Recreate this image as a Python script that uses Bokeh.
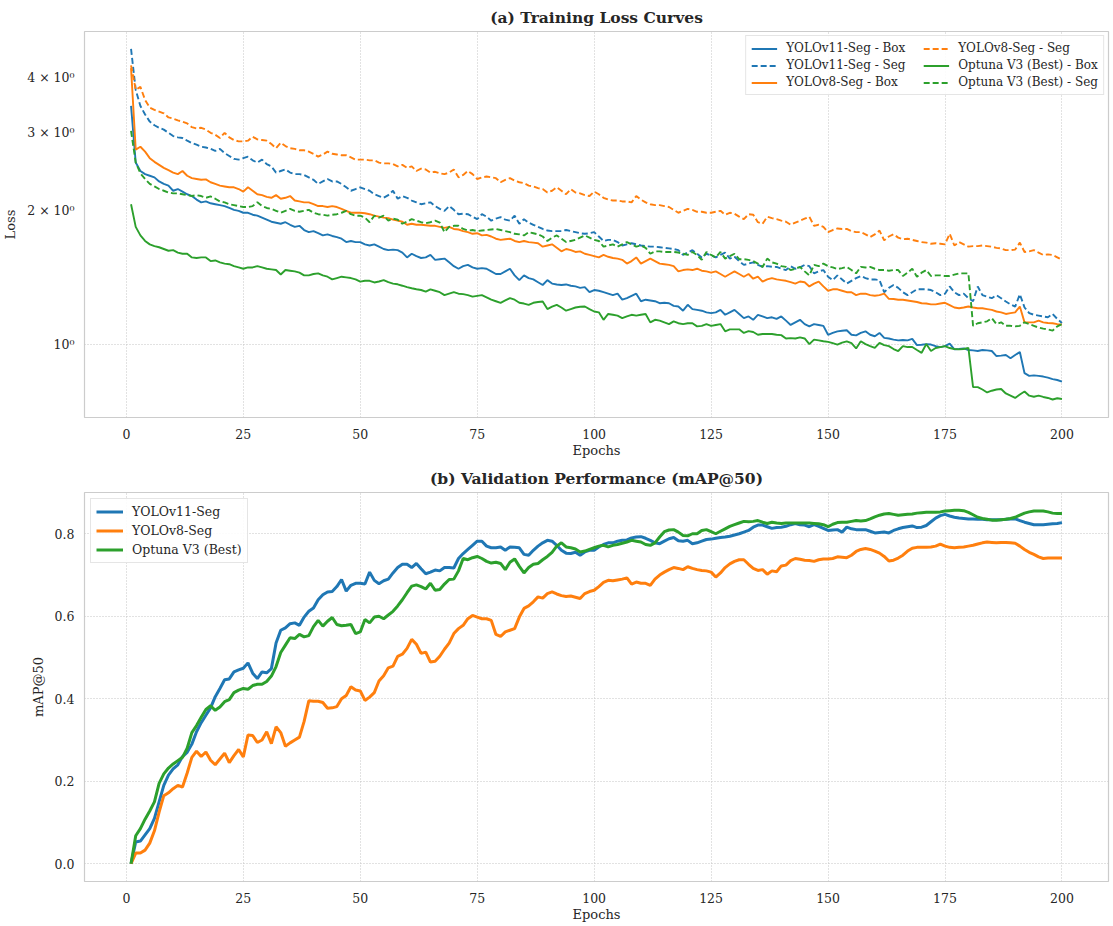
from bokeh.plotting import figure
from bokeh.layouts import column
from bokeh.models import FixedTicker, Range1d, PrintfTickFormatter
from bokeh.embed import file_html
from bokeh.resources import INLINE

epochs = list(range(1, 201))

v11_box = [3.45, 2.57, 2.46, 2.42, 2.40, 2.38, 2.33, 2.30, 2.28, 2.22,
           2.24, 2.21, 2.18, 2.16, 2.12, 2.09, 2.10, 2.08, 2.07, 2.06,
           2.05, 2.03, 2.01, 2.00, 1.98, 1.98, 1.96, 1.95, 1.93, 1.91,
           1.89, 1.88, 1.87, 1.885, 1.86, 1.84, 1.85, 1.81, 1.79, 1.80,
           1.78, 1.76, 1.77, 1.755, 1.745, 1.73, 1.70, 1.71, 1.70, 1.70,
           1.68, 1.67, 1.68, 1.66, 1.64, 1.63, 1.635, 1.63, 1.61, 1.57,
           1.60, 1.58, 1.565, 1.57, 1.59, 1.55, 1.555, 1.56, 1.53, 1.50,
           1.48, 1.50, 1.51, 1.49, 1.48, 1.485, 1.48, 1.46, 1.44, 1.44,
           1.46, 1.48, 1.43, 1.395, 1.43, 1.41, 1.40, 1.38, 1.36, 1.395,
           1.37, 1.364, 1.36, 1.364, 1.355, 1.35, 1.34, 1.345, 1.31, 1.325,
           1.32, 1.31, 1.30, 1.29, 1.30, 1.26, 1.27, 1.285, 1.30, 1.25,
           1.26, 1.255, 1.25, 1.237, 1.24, 1.237, 1.22, 1.216, 1.19, 1.227,
           1.20, 1.195, 1.19, 1.18, 1.175, 1.18, 1.195, 1.165, 1.18, 1.195,
           1.17, 1.145, 1.155, 1.135, 1.165, 1.155, 1.145, 1.15, 1.14, 1.155,
           1.13, 1.105, 1.12, 1.135, 1.11, 1.097, 1.11, 1.105, 1.10, 1.05,
           1.06, 1.069, 1.072, 1.075, 1.05, 1.047, 1.06, 1.069, 1.05, 1.042,
           1.06, 1.033, 1.03, 1.024, 1.02, 1.022, 1.02, 1.028, 0.995, 0.997,
           1.00, 0.998, 0.99, 0.985, 0.99, 1.003, 0.973, 0.975, 0.978, 0.97,
           0.968, 0.965, 0.97, 0.968, 0.965, 0.94, 0.942, 0.945, 0.929, 0.945,
           0.96, 0.86, 0.848, 0.85, 0.848, 0.845, 0.84, 0.834, 0.83, 0.823]

v11_seg = [4.64, 3.75, 3.45, 3.30, 3.18, 3.12, 3.08, 3.05, 3.00, 2.95,
           2.93, 2.92, 2.88, 2.845, 2.82, 2.79, 2.78, 2.76, 2.73, 2.76,
           2.70, 2.66, 2.62, 2.61, 2.63, 2.65, 2.60, 2.57, 2.61, 2.55,
           2.52, 2.44, 2.46, 2.48, 2.44, 2.42, 2.42, 2.41, 2.38, 2.35,
           2.30, 2.33, 2.36, 2.33, 2.33, 2.30, 2.26, 2.22, 2.24, 2.26,
           2.24, 2.22, 2.18, 2.16, 2.14, 2.17, 2.22, 2.13, 2.16, 2.14,
           2.11, 2.09, 2.07, 2.08, 2.09, 2.05, 2.02, 2.00, 2.05, 2.01,
           1.965, 1.97, 1.965, 1.94, 1.915, 1.965, 1.94, 1.90, 1.92, 1.935,
           1.91, 1.90, 1.95, 1.87, 1.915, 1.88, 1.86, 1.84, 1.82, 1.805,
           1.80, 1.80, 1.80, 1.81, 1.80, 1.79, 1.78, 1.775, 1.78, 1.79,
           1.75, 1.71, 1.72, 1.72, 1.70, 1.67, 1.68, 1.69, 1.68, 1.67,
           1.665, 1.66, 1.66, 1.655, 1.65, 1.645, 1.64, 1.63, 1.59, 1.61,
           1.63, 1.60, 1.57, 1.60, 1.585, 1.57, 1.59, 1.61, 1.56, 1.575,
           1.54, 1.51, 1.52, 1.53, 1.51, 1.494, 1.50, 1.495, 1.494, 1.48,
           1.47, 1.50, 1.48, 1.49, 1.51, 1.50, 1.445, 1.46, 1.47, 1.42,
           1.395, 1.43, 1.40, 1.37, 1.39, 1.41, 1.425, 1.41, 1.40, 1.40,
           1.395, 1.31, 1.34, 1.36, 1.34, 1.31, 1.29, 1.31, 1.33, 1.33,
           1.33, 1.325, 1.31, 1.29, 1.30, 1.35, 1.31, 1.29, 1.30, 1.27,
           1.25, 1.35, 1.29, 1.28, 1.27, 1.29, 1.27, 1.248, 1.23, 1.216,
           1.296, 1.21, 1.175, 1.165, 1.16, 1.155, 1.15, 1.17, 1.14, 1.116]

v8_box = [4.20, 2.75, 2.79, 2.72, 2.63, 2.58, 2.54, 2.50, 2.47, 2.44,
          2.42, 2.46, 2.40, 2.37, 2.36, 2.35, 2.355, 2.32, 2.30, 2.28,
          2.27, 2.26, 2.26, 2.24, 2.21, 2.26, 2.22, 2.18, 2.17, 2.15,
          2.14, 2.17, 2.13, 2.14, 2.16, 2.11, 2.10, 2.09, 2.09, 2.07,
          2.05, 2.05, 2.04, 2.05, 2.04, 2.02, 2.00, 1.98, 1.98, 1.98,
          1.975, 1.965, 1.95, 1.94, 1.93, 1.925, 1.91, 1.90, 1.89, 1.86,
          1.87, 1.86, 1.86, 1.855, 1.85, 1.85, 1.84, 1.83, 1.84, 1.82,
          1.815, 1.80, 1.79, 1.775, 1.78, 1.76, 1.765, 1.75, 1.73, 1.72,
          1.725, 1.73, 1.71, 1.70, 1.71, 1.70, 1.695, 1.69, 1.66, 1.67,
          1.68, 1.65, 1.62, 1.64, 1.63, 1.615, 1.62, 1.60, 1.59, 1.58,
          1.57, 1.59, 1.575, 1.565, 1.56, 1.55, 1.52, 1.54, 1.57, 1.52,
          1.54, 1.56, 1.54, 1.52, 1.515, 1.51, 1.50, 1.46, 1.47, 1.475,
          1.47, 1.48, 1.465, 1.46, 1.45, 1.46, 1.44, 1.42, 1.44, 1.46,
          1.44, 1.42, 1.44, 1.405, 1.42, 1.384, 1.40, 1.41, 1.40, 1.395,
          1.39, 1.38, 1.37, 1.385, 1.38, 1.35, 1.37, 1.384, 1.35, 1.32,
          1.33, 1.33, 1.32, 1.31, 1.31, 1.29, 1.30, 1.30, 1.29, 1.286,
          1.29, 1.30, 1.266, 1.265, 1.26, 1.26, 1.255, 1.25, 1.245, 1.237,
          1.235, 1.23, 1.23, 1.235, 1.24, 1.225, 1.21, 1.205, 1.21, 1.216,
          1.21, 1.205, 1.205, 1.20, 1.195, 1.185, 1.18, 1.17, 1.175, 1.18,
          1.216, 1.12, 1.12, 1.12, 1.13, 1.12, 1.116, 1.115, 1.11, 1.107]

v8_seg = [4.26, 3.75, 3.81, 3.56, 3.42, 3.38, 3.35, 3.32, 3.25, 3.23,
          3.20, 3.18, 3.15, 3.09, 3.07, 3.08, 3.05, 3.00, 2.97, 2.92,
          3.00, 2.93, 2.89, 2.87, 2.87, 2.88, 2.94, 2.90, 2.89, 2.88,
          2.83, 2.77, 2.85, 2.80, 2.77, 2.76, 2.74, 2.74, 2.72, 2.69,
          2.65, 2.68, 2.72, 2.69, 2.68, 2.67, 2.67, 2.64, 2.61, 2.61,
          2.61, 2.60, 2.60, 2.57, 2.56, 2.56, 2.55, 2.52, 2.54, 2.50,
          2.52, 2.46, 2.49, 2.48, 2.44, 2.45, 2.43, 2.42, 2.44, 2.48,
          2.38, 2.41, 2.46, 2.42, 2.36, 2.38, 2.39, 2.38, 2.37, 2.32,
          2.35, 2.37, 2.34, 2.32, 2.31, 2.28, 2.27, 2.25, 2.24, 2.20,
          2.22, 2.26, 2.22, 2.18, 2.24, 2.20, 2.19, 2.17, 2.16, 2.21,
          2.18, 2.14, 2.12, 2.11, 2.11, 2.10, 2.10, 2.09, 2.16, 2.12,
          2.09, 2.07, 2.06, 2.06, 2.05, 2.04, 2.01, 1.98, 2.00, 2.02,
          2.01, 1.99, 1.99, 1.98, 1.98, 1.99, 2.00, 1.96, 1.98, 1.97,
          1.94, 1.915, 1.965, 1.96, 1.885, 1.87, 1.94, 1.925, 1.915, 1.90,
          1.89, 1.86, 1.88, 1.90, 1.92, 1.94, 1.85, 1.86, 1.84, 1.79,
          1.81, 1.825, 1.82, 1.82, 1.80, 1.79, 1.79, 1.77, 1.745, 1.77,
          1.805, 1.715, 1.75, 1.77, 1.74, 1.725, 1.73, 1.72, 1.71, 1.70,
          1.695, 1.685, 1.69, 1.685, 1.68, 1.775, 1.67, 1.70, 1.68, 1.66,
          1.665, 1.665, 1.67, 1.665, 1.66, 1.65, 1.645, 1.63, 1.63, 1.635,
          1.695, 1.615, 1.62, 1.63, 1.61, 1.59, 1.595, 1.59, 1.57, 1.55]

opt_box = [2.07, 1.84, 1.76, 1.71, 1.68, 1.665, 1.655, 1.64, 1.625, 1.63,
           1.61, 1.60, 1.60, 1.57, 1.565, 1.57, 1.57, 1.54, 1.545, 1.53,
           1.52, 1.515, 1.50, 1.49, 1.48, 1.49, 1.49, 1.50, 1.49, 1.48,
           1.475, 1.47, 1.436, 1.47, 1.465, 1.46, 1.45, 1.43, 1.43, 1.44,
           1.445, 1.43, 1.42, 1.40, 1.41, 1.42, 1.415, 1.41, 1.40, 1.384,
           1.39, 1.39, 1.378, 1.385, 1.395, 1.38, 1.37, 1.365, 1.355, 1.345,
           1.337, 1.33, 1.325, 1.314, 1.33, 1.32, 1.31, 1.29, 1.30, 1.31,
           1.30, 1.297, 1.29, 1.28, 1.285, 1.29, 1.275, 1.26, 1.25, 1.24,
           1.255, 1.27, 1.26, 1.24, 1.235, 1.227, 1.24, 1.245, 1.248, 1.20,
           1.215, 1.227, 1.21, 1.19, 1.20, 1.21, 1.215, 1.216, 1.20, 1.185,
           1.18, 1.135, 1.17, 1.165, 1.16, 1.145, 1.155, 1.165, 1.16, 1.165,
           1.17, 1.12, 1.135, 1.13, 1.12, 1.11, 1.126, 1.115, 1.11, 1.115,
           1.115, 1.097, 1.10, 1.11, 1.10, 1.105, 1.11, 1.069, 1.08, 1.08,
           1.08, 1.06, 1.07, 1.065, 1.05, 1.054, 1.055, 1.054, 1.05, 1.048,
           1.03, 1.032, 1.03, 1.036, 1.03, 1.00, 1.024, 1.02, 1.015, 1.012,
           1.005, 0.998, 1.008, 1.015, 1.005, 0.978, 1.015, 1.00, 0.99, 0.981,
           1.007, 0.995, 0.99, 0.975, 0.965, 0.99, 0.985, 0.985, 0.97, 0.956,
           1.001, 0.965, 0.98, 0.985, 0.99, 0.98, 0.975, 0.973, 0.975, 0.981,
           0.80, 0.80, 0.79, 0.778, 0.785, 0.79, 0.792, 0.774, 0.765, 0.756,
           0.77, 0.782, 0.765, 0.761, 0.765, 0.76, 0.756, 0.75, 0.755, 0.752]

opt_seg = [3.03, 2.57, 2.43, 2.36, 2.30, 2.27, 2.24, 2.22, 2.20, 2.19,
           2.19, 2.18, 2.17, 2.16, 2.17, 2.16, 2.14, 2.155, 2.13, 2.10,
           2.09, 2.07, 2.06, 2.05, 2.04, 2.04, 2.05, 2.09, 2.05, 2.03,
           2.02, 2.00, 1.98, 2.00, 2.02, 2.00, 1.99, 2.00, 2.01, 1.98,
           1.965, 1.96, 1.95, 1.96, 1.965, 1.98, 2.00, 1.965, 1.95, 1.95,
           1.93, 1.885, 1.95, 1.93, 1.95, 1.90, 1.92, 1.91, 1.87, 1.89,
           1.915, 1.90, 1.885, 1.875, 1.885, 1.90, 1.88, 1.79, 1.84, 1.85,
           1.85, 1.82, 1.805, 1.81, 1.80, 1.805, 1.81, 1.815, 1.82, 1.81,
           1.80, 1.79, 1.775, 1.77, 1.76, 1.79, 1.78, 1.77, 1.75, 1.71,
           1.74, 1.76, 1.73, 1.70, 1.71, 1.72, 1.74, 1.76, 1.74, 1.72,
           1.71, 1.66, 1.67, 1.68, 1.66, 1.68, 1.70, 1.68, 1.66, 1.67,
           1.65, 1.60, 1.62, 1.62, 1.615, 1.615, 1.615, 1.61, 1.60, 1.59,
           1.615, 1.59, 1.55, 1.615, 1.59, 1.57, 1.615, 1.56, 1.58, 1.60,
           1.555, 1.555, 1.55, 1.54, 1.52, 1.494, 1.56, 1.53, 1.52, 1.50,
           1.494, 1.47, 1.48, 1.494, 1.46, 1.43, 1.51, 1.50, 1.52, 1.50,
           1.49, 1.477, 1.485, 1.494, 1.47, 1.445, 1.494, 1.49, 1.494, 1.48,
           1.47, 1.47, 1.465, 1.47, 1.47, 1.425, 1.45, 1.48, 1.42, 1.45,
           1.47, 1.425, 1.43, 1.43, 1.425, 1.425, 1.435, 1.445, 1.445, 1.445,
           1.10, 1.115, 1.12, 1.126, 1.145, 1.11, 1.12, 1.10, 1.10, 1.097,
           1.10, 1.12, 1.11, 1.10, 1.09, 1.084, 1.08, 1.073, 1.097, 1.11]

map_v11 = [0.0, 0.053, 0.055, 0.07, 0.085, 0.11, 0.15, 0.19, 0.215, 0.23,
           0.24, 0.26, 0.27, 0.29, 0.32, 0.342, 0.36, 0.378, 0.405, 0.425,
           0.446, 0.448, 0.465, 0.47, 0.474, 0.487, 0.462, 0.449, 0.465, 0.463,
           0.473, 0.535, 0.566, 0.572, 0.582, 0.584, 0.578, 0.598, 0.612, 0.62,
           0.64, 0.652, 0.659, 0.66, 0.672, 0.689, 0.661, 0.675, 0.68, 0.68,
           0.678, 0.707, 0.687, 0.679, 0.686, 0.69, 0.705, 0.718, 0.726, 0.726,
           0.718, 0.728, 0.715, 0.703, 0.707, 0.712, 0.71, 0.718, 0.718, 0.717,
           0.74, 0.752, 0.762, 0.772, 0.782, 0.782, 0.77, 0.766, 0.766, 0.768,
           0.76, 0.768, 0.767, 0.766, 0.75, 0.748, 0.76, 0.77, 0.778, 0.784,
           0.782, 0.772, 0.76, 0.753, 0.752, 0.755, 0.748, 0.756, 0.76, 0.76,
           0.768, 0.774, 0.778, 0.778, 0.782, 0.784, 0.785, 0.79, 0.792, 0.793,
           0.789, 0.784, 0.778, 0.776, 0.782, 0.788, 0.791, 0.783, 0.782, 0.784,
           0.776, 0.778, 0.782, 0.786, 0.787, 0.789, 0.791, 0.792, 0.794, 0.797,
           0.80, 0.804, 0.808, 0.816, 0.821, 0.821, 0.817, 0.813, 0.815, 0.816,
           0.818, 0.822, 0.825, 0.822, 0.821, 0.817, 0.822, 0.818, 0.813, 0.808,
           0.809, 0.81, 0.804, 0.816, 0.812, 0.81, 0.81, 0.81, 0.806, 0.802,
           0.803, 0.804, 0.802, 0.808, 0.812, 0.815, 0.817, 0.819, 0.815, 0.816,
           0.82, 0.829, 0.838, 0.844, 0.847, 0.843, 0.84, 0.838, 0.837, 0.836,
           0.836, 0.835, 0.835, 0.834, 0.834, 0.834, 0.834, 0.835, 0.836, 0.836,
           0.832, 0.828, 0.825, 0.822, 0.822, 0.822, 0.823, 0.824, 0.825, 0.827]

map_v8 = [0.0, 0.026, 0.026, 0.033, 0.05, 0.08, 0.125, 0.165, 0.172, 0.182,
          0.19, 0.186, 0.22, 0.258, 0.273, 0.26, 0.271, 0.251, 0.24, 0.254,
          0.268, 0.245, 0.262, 0.277, 0.259, 0.312, 0.311, 0.294, 0.30, 0.32,
          0.291, 0.332, 0.318, 0.285, 0.293, 0.30, 0.307, 0.345, 0.395, 0.394,
          0.394, 0.391, 0.377, 0.378, 0.381, 0.40, 0.408, 0.429, 0.421, 0.419,
          0.396, 0.404, 0.415, 0.443, 0.456, 0.475, 0.479, 0.503, 0.508, 0.522,
          0.544, 0.532, 0.51, 0.513, 0.489, 0.491, 0.503, 0.52, 0.535, 0.558,
          0.57, 0.578, 0.594, 0.602, 0.598, 0.594, 0.594, 0.59, 0.556, 0.551,
          0.562, 0.566, 0.57, 0.598, 0.619, 0.625, 0.635, 0.647, 0.644, 0.655,
          0.659, 0.654, 0.65, 0.648, 0.649, 0.646, 0.643, 0.655, 0.66, 0.663,
          0.672, 0.682, 0.687, 0.686, 0.688, 0.69, 0.693, 0.678, 0.683, 0.68,
          0.68, 0.675, 0.69, 0.70, 0.707, 0.713, 0.718, 0.716, 0.713, 0.72,
          0.716, 0.713, 0.711, 0.71, 0.707, 0.695, 0.705, 0.718, 0.727, 0.733,
          0.737, 0.737, 0.726, 0.716, 0.711, 0.713, 0.702, 0.71, 0.708, 0.722,
          0.724, 0.735, 0.74, 0.738, 0.736, 0.735, 0.733, 0.737, 0.739, 0.739,
          0.74, 0.744, 0.743, 0.742, 0.748, 0.757, 0.762, 0.764, 0.762, 0.758,
          0.753, 0.745, 0.734, 0.736, 0.741, 0.748, 0.758, 0.765, 0.767, 0.767,
          0.767, 0.768, 0.77, 0.775, 0.77, 0.767, 0.766, 0.767, 0.768, 0.77,
          0.772, 0.775, 0.778, 0.78, 0.779, 0.778, 0.779, 0.779, 0.778, 0.777,
          0.77, 0.762, 0.755, 0.75, 0.744, 0.74, 0.741, 0.741, 0.741, 0.741]

map_opt = [0.0, 0.068, 0.085, 0.108, 0.128, 0.15, 0.195, 0.218, 0.232, 0.242,
           0.25, 0.258, 0.28, 0.318, 0.335, 0.355, 0.374, 0.383, 0.372, 0.38,
           0.393, 0.398, 0.415, 0.421, 0.425, 0.423, 0.432, 0.435, 0.435, 0.442,
           0.455, 0.478, 0.512, 0.53, 0.548, 0.546, 0.556, 0.55, 0.553, 0.575,
           0.59, 0.576, 0.588, 0.597, 0.58, 0.577, 0.578, 0.58, 0.558, 0.562,
           0.592, 0.584, 0.598, 0.60, 0.594, 0.603, 0.612, 0.625, 0.64, 0.657,
           0.673, 0.676, 0.672, 0.666, 0.68, 0.663, 0.665, 0.678, 0.689, 0.69,
           0.71, 0.74, 0.737, 0.742, 0.745, 0.74, 0.733, 0.729, 0.731, 0.728,
           0.713, 0.731, 0.739, 0.721, 0.705, 0.718, 0.726, 0.728, 0.737, 0.745,
           0.755, 0.77, 0.778, 0.768, 0.766, 0.763, 0.756, 0.758, 0.762, 0.766,
           0.77, 0.772, 0.768, 0.772, 0.774, 0.777, 0.78, 0.784, 0.782, 0.78,
           0.774, 0.772, 0.778, 0.792, 0.805, 0.809, 0.81, 0.804, 0.796, 0.795,
           0.80, 0.80, 0.808, 0.81, 0.805, 0.80, 0.806, 0.812, 0.818, 0.822,
           0.826, 0.83, 0.829, 0.83, 0.832, 0.828, 0.825, 0.828, 0.826, 0.825,
           0.826, 0.826, 0.826, 0.826, 0.826, 0.826, 0.825, 0.824, 0.822, 0.817,
           0.823, 0.827, 0.828, 0.828, 0.83, 0.832, 0.831, 0.832, 0.836, 0.841,
           0.845, 0.848, 0.849, 0.847, 0.845, 0.846, 0.847, 0.848, 0.85, 0.851,
           0.852, 0.852, 0.852, 0.853, 0.855, 0.856, 0.857, 0.857, 0.856, 0.852,
           0.846, 0.84, 0.837, 0.835, 0.833, 0.833, 0.834, 0.835, 0.837, 0.84,
           0.845, 0.85, 0.853, 0.855, 0.855, 0.855, 0.853, 0.85, 0.849, 0.849]

x_ticks = [0, 25, 50, 75, 100, 125, 150, 175, 200]
loss_ticks = [1, 2, 3, 4]
loss_tick_labels = {1: "10⁰", 2: "2 × 10⁰", 3: "3 × 10⁰", 4: "4 × 10⁰"}
map_ticks = [0.0, 0.2, 0.4, 0.6, 0.8]

BLUE = "#1f77b4"
ORANGE = "#ff7f0e"
GREEN = "#2ca02c"
FONT = "DejaVu Serif"
TXT = "#262626"


def style(p, title):
    p.title.text = title
    p.title.text_font = FONT
    p.title.text_font_style = "bold"
    p.title.text_font_size = "15.5px"
    p.title.text_color = TXT
    p.title.align = "center"
    p.outline_line_color = "#cccccc"
    p.outline_line_width = 1.2
    p.background_fill_color = "white"
    p.border_fill_color = "white"
    for ax in (p.xaxis, p.yaxis):
        ax.axis_line_color = None
        ax.major_tick_line_color = None
        ax.minor_tick_line_color = None
        ax.major_tick_out = 0
        ax.major_tick_in = 0
        ax.minor_tick_out = 0
        ax.minor_tick_in = 0
        ax.major_label_text_font = FONT
        ax.major_label_text_font_size = "12.5px"
        ax.major_label_text_color = TXT
        ax.axis_label_text_font = FONT
        ax.axis_label_text_font_size = "13px"
        ax.axis_label_text_font_style = "normal"
        ax.axis_label_text_color = TXT
    p.xaxis.major_label_standoff = 11
    p.xaxis.axis_label_standoff = 1
    p.yaxis.major_label_standoff = 10
    p.yaxis.axis_label_standoff = 6
    for g in (p.xgrid, p.ygrid):
        g.grid_line_color = "#c4c4c4"
        g.grid_line_dash = "1 2"
        g.grid_line_width = 1
    p.xaxis.ticker = FixedTicker(ticks=x_ticks)
    p.xgrid.ticker = FixedTicker(ticks=x_ticks)
    p.xaxis.axis_label = "Epochs"


# ---- (a) training loss ----
p1 = figure(width=1113, height=460, y_axis_type="log",
            x_range=Range1d(-8.95, 209.95), y_range=Range1d(0.683, 5.08),
            output_backend="svg", toolbar_location=None,
            min_border_left=81, min_border_right=5,
            min_border_top=28, min_border_bottom=43)
style(p1, "(a) Training Loss Curves")
p1.yaxis.axis_label = "Loss"
p1.yaxis.ticker = FixedTicker(ticks=loss_ticks, minor_ticks=[])
p1.yaxis.major_label_overrides = loss_tick_labels
p1.ygrid.ticker = FixedTicker(ticks=[1])

lw = 1.9
dash = "6 3"
p1.line(epochs, v11_box, color=BLUE, line_width=lw, legend_label="YOLOv11-Seg - Box")
p1.line(epochs, v11_seg, color=BLUE, line_width=lw, line_dash=dash, legend_label="YOLOv11-Seg - Seg")
p1.line(epochs, v8_box, color=ORANGE, line_width=lw, legend_label="YOLOv8-Seg - Box")
p1.line(epochs, v8_seg, color=ORANGE, line_width=lw, line_dash=dash, legend_label="YOLOv8-Seg - Seg")
p1.line(epochs, opt_box, color=GREEN, line_width=lw, legend_label="Optuna V3 (Best) - Box")
p1.line(epochs, opt_seg, color=GREEN, line_width=lw, line_dash=dash, legend_label="Optuna V3 (Best) - Seg")

lg = p1.legend[0]
lg.location = "top_right"
lg.nrows = 3
lg.margin = 4
lg.padding = 5
lg.spacing = 3
lg.label_text_font = FONT
lg.label_text_font_size = "12px"
lg.label_text_color = TXT
lg.label_height = 13
lg.glyph_height = 13
lg.glyph_width = 26
lg.label_standoff = 9
lg.label_width = 134
lg.border_line_color = "#cccccc"
lg.border_line_width = 1
lg.background_fill_alpha = 0.9

# ---- (b) validation mAP ----
p2 = figure(width=1113, height=466,
            x_range=Range1d(-8.95, 209.95), y_range=Range1d(-0.043, 0.90),
            output_backend="svg", toolbar_location=None,
            min_border_left=81, min_border_right=5,
            min_border_top=32, min_border_bottom=45)
style(p2, "(b) Validation Performance (mAP@50)")
p2.yaxis.axis_label = "mAP@50"
p2.yaxis.ticker = FixedTicker(ticks=map_ticks)
p2.ygrid.ticker = FixedTicker(ticks=map_ticks)
p2.yaxis.formatter = PrintfTickFormatter(format="%.1f")

p2.line(epochs, map_v11, color=BLUE, line_width=3, legend_label="YOLOv11-Seg")
p2.line(epochs, map_v8, color=ORANGE, line_width=3, legend_label="YOLOv8-Seg")
p2.line(epochs, map_opt, color=GREEN, line_width=3, legend_label="Optuna V3 (Best)")

lg2 = p2.legend[0]
lg2.location = "top_left"
lg2.margin = 6
lg2.padding = 5
lg2.spacing = 4
lg2.label_text_font = FONT
lg2.label_text_font_size = "12.5px"
lg2.label_text_color = TXT
lg2.label_height = 15
lg2.glyph_height = 15
lg2.glyph_width = 27
lg2.label_standoff = 9
lg2.border_line_color = "#cccccc"
lg2.border_line_width = 1
lg2.background_fill_alpha = 0.9

layout = column(p1, p2, spacing=0)
open("out.html", "w").write(file_html(layout, INLINE))
